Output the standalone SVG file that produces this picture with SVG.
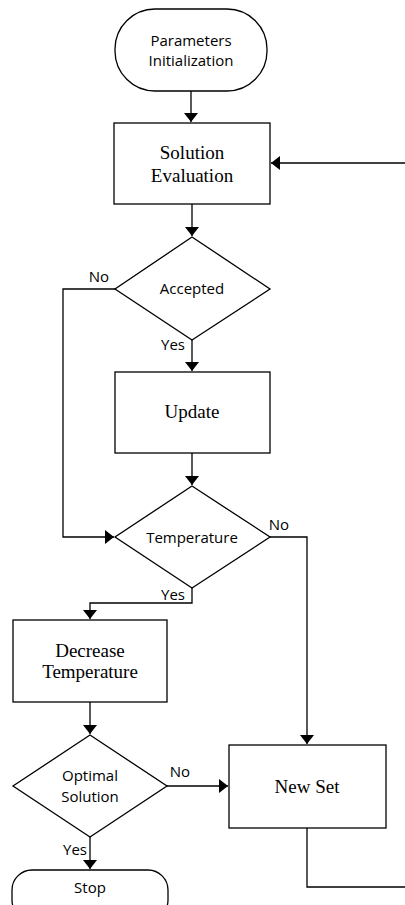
<svg xmlns="http://www.w3.org/2000/svg" width="405" height="905" viewBox="0 0 405 905">
  <style>
    .shape { fill: #ffffff; stroke: #000000; stroke-width: 1.3; }
    .edge { fill: none; stroke: #000000; stroke-width: 1.3; }
    .sans { font-family: "Open Sans", "Liberation Sans", Arial, sans-serif; font-size: 15px; fill: #000000; }
    .serif { font-family: "Liberation Serif", "Times New Roman", serif; font-size: 19px; fill: #000000; }
    .mid { text-anchor: middle; }
  </style>
  <defs>
    <marker id="arrow" markerUnits="userSpaceOnUse" markerWidth="10" markerHeight="14" refX="9" refY="7" orient="auto">
      <path d="M0,0 L9,7 L0,14 Z" fill="#000000"/>
    </marker>
  </defs>

  <rect width="405" height="905" fill="#ffffff"/>

  <!-- connectors -->
  <g id="connectors">
    <path class="edge" d="M191,91 V122" marker-end="url(#arrow)"/>
    <path class="edge" d="M405,163 H271" marker-end="url(#arrow)"/>
    <path class="edge" d="M192,204 V236" marker-end="url(#arrow)"/>
    <path class="edge" d="M192,340 V371" marker-end="url(#arrow)"/>
    <path class="edge" d="M192,453 V485" marker-end="url(#arrow)"/>
    <path class="edge" d="M115,289 H63 V537 H114" marker-end="url(#arrow)"/>
    <path class="edge" d="M270,537 H307 V744" marker-end="url(#arrow)"/>
    <path class="edge" d="M192,588 V603 H90 V619" marker-end="url(#arrow)"/>
    <path class="edge" d="M90,702 V734" marker-end="url(#arrow)"/>
    <path class="edge" d="M167,786 H228" marker-end="url(#arrow)"/>
    <path class="edge" d="M90,837 V869" marker-end="url(#arrow)"/>
    <path class="edge" d="M307,828 V887 H405"/>
    <text class="sans mid" x="99" y="282">No</text>
    <text class="sans mid" x="173" y="350">Yes</text>
    <text class="sans mid" x="279" y="530">No</text>
    <text class="sans mid" x="173" y="600">Yes</text>
    <text class="sans mid" x="180" y="777">No</text>
    <text class="sans mid" x="75" y="855">Yes</text>
  </g>

  <g id="params-init">
    <rect class="shape" x="115" y="9" width="152" height="82" rx="40" ry="40"/>
    <text class="sans mid" x="191" y="46">Parameters</text>
    <text class="sans mid" x="191" y="66">Initialization</text>
  </g>

  <g id="solution-eval">
    <rect class="shape" x="114" y="123" width="156" height="81"/>
    <text class="serif mid" x="192" y="159">Solution</text>
    <text class="serif mid" x="192" y="182">Evaluation</text>
  </g>

  <g id="accepted">
    <polygon class="shape" points="192,237 270,289 192,340 115,289"/>
    <text class="sans mid" x="192" y="294">Accepted</text>
  </g>

  <g id="update">
    <rect class="shape" x="115" y="372" width="155" height="81"/>
    <text class="serif mid" x="192" y="418">Update</text>
  </g>

  <g id="temperature">
    <polygon class="shape" points="192,486 270,537 192,588 115,537"/>
    <text class="sans mid" x="192" y="543">Temperature</text>
  </g>

  <g id="decrease-temp">
    <rect class="shape" x="13" y="620" width="154" height="82"/>
    <text class="serif mid" x="90" y="657">Decrease</text>
    <text class="serif mid" x="90" y="678">Temperature</text>
  </g>

  <g id="optimal">
    <polygon class="shape" points="90,735 167,786 90,837 13,786"/>
    <text class="sans mid" x="90" y="781">Optimal</text>
    <text class="sans mid" x="90" y="802">Solution</text>
  </g>

  <g id="new-set">
    <rect class="shape" x="229" y="745" width="157" height="83"/>
    <text class="serif mid" x="307" y="793">New Set</text>
  </g>

  <g id="stop">
    <rect class="shape" x="12" y="870" width="156" height="50" rx="20" ry="20"/>
    <text class="sans mid" x="90" y="893">Stop</text>
  </g>
</svg>
